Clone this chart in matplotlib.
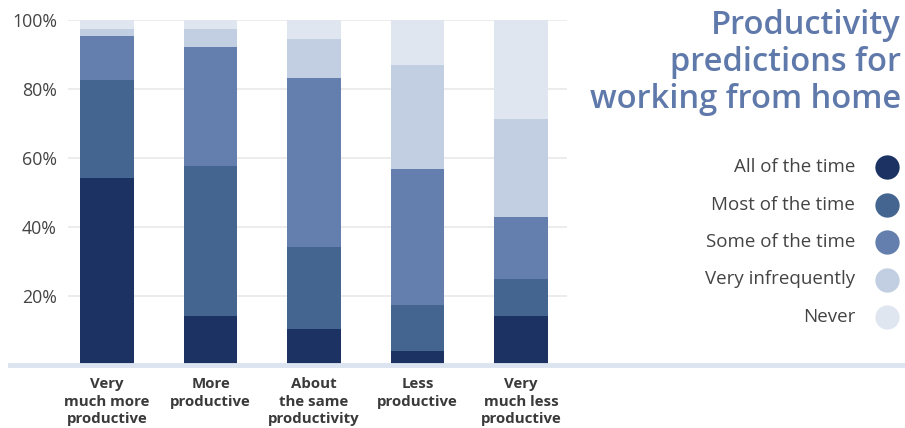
import matplotlib
matplotlib.use("Agg")
import matplotlib.pyplot as plt
from matplotlib.lines import Line2D
import numpy as np

# categories (x) and the share for each answer, bottom -> top
categories = ["Very\nmuch more\nproductive", "More\nproductive", "About\nthe same\nproductivity",
              "Less\nproductive", "Very\nmuch less\nproductive"]
series_names = ["All of the time", "Most of the time", "Some of the time",
                "Very infrequently", "Never"]
all_time = [54.2, 14.3, 10.4, 4.0, 14.3]
most_time = [28.5, 43.4, 23.8, 13.4, 10.6]
some_time = [12.7, 34.6, 49.1, 39.5, 18.0]
very_infreq = [2.1, 5.2, 11.3, 30.1, 28.5]
never = [2.5, 2.5, 5.4, 13.0, 28.6]
yticks = [20, 40, 60, 80, 100]

colors = ["#1b3262", "#456591", "#647eae", "#c2cfe2", "#e0e6f0"]
TITLE_C = "#6079ab"
TEXT_C = "#444444"
FONT = "Open Sans"

plt.rcParams["font.family"] = [FONT, "DejaVu Sans"]

fig = plt.figure(figsize=(9.05, 4.28), dpi=100)
W, H = 905, 428
left, right, y0, y100 = 68, 567, 364.9, 20.3
ax = fig.add_axes([left / W, (H - y0) / H, (right - left) / W, (y0 - y100) / H])

x = np.arange(len(categories))
bottom = np.zeros(len(categories))
for vals, c in zip([all_time, most_time, some_time, very_infreq, never], colors):
    ax.bar(x, vals, 0.52, bottom=bottom, color=c, zorder=2, linewidth=0)
    bottom += np.array(vals)

ax.set_xlim(-0.377, 4.444)
ax.set_ylim(0, 100)
ax.set_yticks(yticks, [f"{t}%" for t in yticks], fontsize=12.8, color=TEXT_C)
ax.set_xticks(x, categories, fontsize=10.8, fontweight="bold", color="#3a3a3a",
              linespacing=1.3)
ax.tick_params(axis="y", length=0, pad=8)
ax.tick_params(axis="x", length=0, pad=9)
ax.grid(axis="y", color="#ececec", lw=1.4, zorder=0)
for s in ax.spines.values():
    s.set_visible(False)
# light baseline running across the figure
ax.axhline(0, xmin=(10 - left) / (right - left), xmax=(905 - left) / (right - left),
           color="#dbe4f0", lw=3.5, clip_on=False, zorder=3)

fig.text(901 / W, 1 - 9 / H, "Productivity\npredictions for\nworking from home",
         ha="right", va="top", fontsize=23.5, fontweight="semibold", color=TITLE_C,
         linespacing=1.17)

# legend: label on the left, dot on the right
leg_y = [167, 204.5, 242, 279.5, 317]
for name, c, yy in zip(series_names, colors, leg_y):
    fig.text(855 / W, 1 - yy / H, name, ha="right", va="center", fontsize=13.5, color=TEXT_C)
    fig.add_artist(Line2D([887 / W], [1 - yy / H], marker="o", markersize=17.5, color=c,
                          markeredgewidth=0, linestyle="none", transform=fig.transFigure))

fig.savefig("out.png", dpi=100)
